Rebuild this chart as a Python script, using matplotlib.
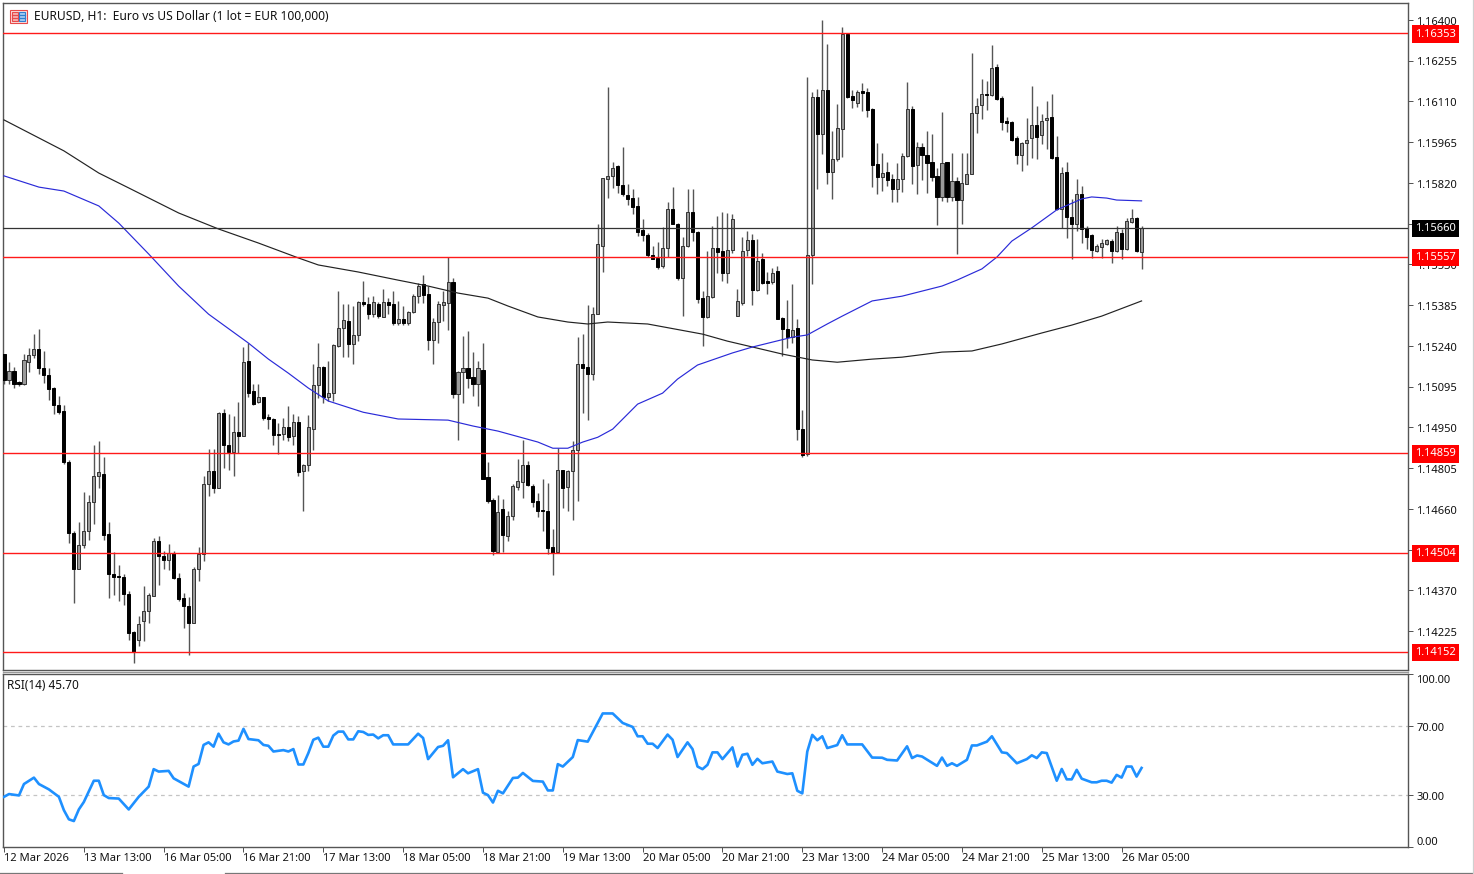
import numpy as np
import matplotlib
matplotlib.use("Agg")
import matplotlib.pyplot as plt
from matplotlib.lines import Line2D
from matplotlib.patches import Rectangle
from matplotlib.transforms import ScaledTranslation, blended_transform_factory

# Figure size
WIDTH = 1474
HEIGHT = 874

# Candles, in points (1 point = 0.00001)
opens = [
    115212, 115117, 115150, 115110, 115103, 115184, 115206, 115230, 115162, 115136,
    115089, 115029, 115008, 114826, 114575, 114447, 114532, 114581, 114683, 114777,
    114786, 114571, 114429, 114423, 114417, 114359, 114222, 114195, 114260, 114296,
    114352, 114545, 114494, 114478, 114504, 114415, 114343, 114314, 114254, 114448,
    114498, 114749, 114794, 114735, 115000, 114887, 114863, 114932, 114918, 115186,
    115079, 115041, 115058, 114987, 114981, 114928, 114927, 114950, 114918, 114968,
    114794, 114816, 114945, 115100, 115164, 115059, 115073, 115238, 115302, 115328,
    115248, 115280, 115396, 115390, 115352, 115390, 115344, 115396, 115388, 115321,
    115337, 115321, 115359, 115417, 115459, 115423, 115261, 115325, 115384, 115393,
    115467, 115069, 115147, 115163, 115129, 115105, 115156, 114773, 114693, 114506,
    114660, 114563, 114634, 114738, 114756, 114816, 114743, 114687, 114658, 114652,
    114524, 114507, 114798, 114737, 114794, 114868, 115174, 115164, 115140, 115352,
    115595, 115834, 115843, 115880, 115812, 115777, 115765, 115737, 115654, 115635,
    115563, 115553, 115523, 115587, 115728, 115674, 115482, 115595, 115715, 115646,
    115409, 115343, 115414, 115589, 115577, 115500, 115580, 115348, 115393, 115580,
    115616, 115438, 115548, 115470, 115467, 115506, 115340, 115301, 115271, 115302,
    114945, 114856, 115562, 116126, 115993, 116151, 115859, 115906, 116013, 116349,
    116129, 116106, 116147, 116145, 116082, 115886, 115842, 115859, 115833, 115797,
    115835, 115916, 116084, 115883, 115948, 115921, 115894, 115845, 115771, 115894,
    115771, 115827, 115758, 115817, 115853, 116067, 116096, 116138, 116132, 116233,
    116121, 116040, 116037, 115980, 115918, 115962, 115978, 116026, 115989, 116043,
    116055, 115912, 115728, 115859, 115700, 115673, 115782, 115661, 115633, 115578,
    115593, 115604, 115613, 115578, 115640, 115584, 115682, 115696, 115575,
]
highs = [
    115212, 115182, 115165, 115115, 115212, 115231, 115283, 115299, 115222, 115160,
    115093, 115061, 115029, 114834, 114580, 114613, 114721, 114708, 114886, 114901,
    114844, 114613, 114506, 114462, 114427, 114367, 114227, 114278, 114385, 114362,
    114557, 114563, 114512, 114536, 114512, 114432, 114361, 114346, 114453, 114524,
    114777, 114872, 114872, 115004, 115016, 114998, 114990, 115040, 115236, 115251,
    115103, 115103, 115060, 114996, 114984, 114966, 114984, 115026, 114996, 114990,
    114820, 114994, 115177, 115249, 115170, 115186, 115248, 115435, 115388, 115388,
    115382, 115399, 115471, 115414, 115417, 115396, 115441, 115411, 115435, 115399,
    115382, 115366, 115423, 115465, 115494, 115453, 115340, 115399, 115435, 115556,
    115480, 115150, 115275, 115293, 115218, 115186, 115249, 114827, 114699, 114711,
    114696, 114652, 114747, 114836, 114907, 114830, 114747, 114715, 114768, 114753,
    114590, 114877, 114800, 114800, 114901, 115271, 115281, 115387, 115378, 115674,
    115838, 116161, 115895, 115882, 115947, 115815, 115800, 115769, 115690, 115640,
    115595, 115609, 115663, 115753, 115805, 115678, 115627, 115800, 115797, 115649,
    115435, 115577, 115666, 115702, 115716, 115714, 115711, 115441, 115627, 115648,
    115639, 115619, 115571, 115502, 115518, 115524, 115342, 115402, 115462, 115337,
    115013, 116197, 116143, 116153, 116399, 116313, 116005, 116100, 116375, 116351,
    116151, 116150, 116174, 116156, 116085, 115961, 115925, 115894, 115851, 115890,
    115928, 116179, 116094, 115966, 115963, 116005, 115993, 115874, 116072, 115895,
    115925, 115842, 115925, 115925, 116281, 116123, 116189, 116183, 116310, 116242,
    116129, 116055, 116040, 115987, 115966, 116050, 116165, 116094, 116064, 116112,
    116135, 115987, 115877, 115894, 115764, 115835, 115809, 115665, 115637, 115601,
    115619, 115619, 115619, 115667, 115655, 115696, 115726, 115700, 115667,
]
lows = [
    115103, 115103, 115091, 115097, 115101, 115148, 115198, 115139, 115109, 115046,
    114998, 114998, 114820, 114539, 114326, 114447, 114521, 114548, 114605, 114735,
    114551, 114343, 114355, 114334, 114320, 114195, 114111, 114171, 114189, 114254,
    114350, 114391, 114448, 114444, 114409, 114332, 114237, 114142, 114254, 114405,
    114474, 114705, 114717, 114735, 114806, 114800, 114777, 114860, 114918, 115058,
    115029, 115038, 114975, 114943, 114889, 114856, 114907, 114901, 114889, 114777,
    114654, 114794, 114871, 115055, 115037, 115043, 115043, 115236, 115201, 115201,
    115177, 115259, 115382, 115334, 115342, 115340, 115342, 115352, 115316, 115316,
    115316, 115316, 115358, 115393, 115393, 115227, 115174, 115251, 115328, 115295,
    115055, 114905, 115037, 115091, 115061, 115026, 114765, 114681, 114495, 114503,
    114507, 114545, 114619, 114729, 114699, 114741, 114667, 114632, 114581, 114500,
    114426, 114505, 114664, 114652, 114619, 114690, 115002, 114978, 115117, 115352,
    115504, 115767, 115803, 115785, 115773, 115740, 115708, 115631, 115615, 115556,
    115548, 115515, 115518, 115556, 115672, 115473, 115348, 115591, 115613, 115393,
    115241, 115341, 115411, 115500, 115470, 115464, 115571, 115346, 115387, 115559,
    115384, 115435, 115459, 115425, 115459, 115334, 115203, 115233, 115251, 114907,
    114844, 114850, 115459, 115797, 115922, 115815, 115762, 115898, 115913, 116121,
    116085, 116090, 116076, 116055, 115805, 115779, 115791, 115809, 115753, 115753,
    115788, 115913, 115815, 115779, 115829, 115785, 115827, 115669, 115756, 115753,
    115756, 115566, 115673, 115815, 115851, 115999, 116046, 116080, 116129, 116115,
    116007, 116000, 115969, 115886, 115862, 115884, 115910, 115906, 115957, 115940,
    115906, 115724, 115661, 115623, 115548, 115649, 115607, 115584, 115554, 115575,
    115554, 115599, 115536, 115575, 115548, 115581, 115678, 115575, 115512,
]
closes = [
    115117, 115150, 115103, 115103, 115191, 115207, 115230, 115162, 115136, 115087,
    115029, 115006, 114826, 114575, 114447, 114532, 114581, 114683, 114777, 114790,
    114569, 114429, 114419, 114419, 114359, 114219, 114151, 114252, 114296, 114354,
    114545, 114492, 114478, 114504, 114415, 114341, 114313, 114254, 114448, 114498,
    114749, 114794, 114735, 115000, 114887, 114863, 114932, 114918, 115182, 115073,
    115035, 115057, 114982, 114981, 114923, 114923, 114950, 114917, 114968, 114792,
    114817, 114951, 115100, 115164, 115058, 115073, 115242, 115302, 115333, 115248,
    115280, 115396, 115390, 115354, 115396, 115346, 115396, 115385, 115320, 115337,
    115321, 115360, 115417, 115453, 115420, 115261, 115325, 115388, 115396, 115467,
    115069, 115147, 115163, 115126, 115105, 115161, 114768, 114687, 114509, 114648,
    114566, 114634, 114741, 114759, 114818, 114744, 114684, 114654, 114652, 114521,
    114503, 114800, 114735, 114794, 114871, 115176, 115162, 115140, 115355, 115601,
    115836, 115843, 115874, 115811, 115779, 115761, 115735, 115646, 115633, 115562,
    115551, 115521, 115589, 115728, 115674, 115480, 115595, 115715, 115644, 115407,
    115343, 115416, 115589, 115575, 115500, 115581, 115692, 115399, 115577, 115616,
    115438, 115542, 115464, 115464, 115500, 115336, 115301, 115271, 115297, 114945,
    114851, 115565, 116125, 115993, 116151, 115859, 115906, 116014, 116349, 116126,
    116114, 116145, 116141, 116078, 115883, 115842, 115856, 115829, 115797, 115835,
    115916, 116084, 115880, 115948, 115918, 115892, 115842, 115771, 115892, 115771,
    115827, 115758, 115821, 115853, 116068, 116094, 116138, 116132, 116230, 116118,
    116038, 116034, 115974, 115918, 115961, 115973, 116026, 115985, 116039, 116052,
    115910, 115726, 115856, 115700, 115673, 115782, 115657, 115627, 115581, 115595,
    115605, 115616, 115578, 115645, 115586, 115683, 115694, 115578, 115660,
]

# Moving averages, read at a subset of bars
black_ma_bars = [0, 12, 19, 25, 35, 43, 51, 59, 63, 71, 79, 85, 91, 97, 101, 107, 113, 117,
                 121, 129, 140, 145, 151, 156, 162, 167, 174, 180, 188, 194, 200, 208, 214, 220, 228]
black_ma = [116044, 115934, 115855, 115802, 115713, 115656, 115606, 115553, 115528, 115503,
            115474, 115453, 115428, 115410, 115382, 115343, 115325, 115318, 115325, 115318,
            115282, 115257, 115232, 115211, 115190, 115182, 115193, 115200, 115218, 115222,
            115247, 115286, 115314, 115346, 115400]
blue_ma_bars = [0, 7, 12, 19, 23, 29, 35, 41, 49, 53, 57, 61, 65, 72, 79, 89, 94, 99, 107, 110,
                113, 116, 119, 122, 127, 132, 135, 139, 146, 150, 158, 161, 165, 168, 174, 180,
                188, 191, 196, 199, 202, 206, 211, 216, 218, 221, 223, 228]
blue_ma = [115845, 115805, 115791, 115738, 115677, 115567, 115453, 115353, 115250, 115193,
           115143, 115090, 115044, 115004, 114980, 114976, 114955, 114937, 114898, 114876,
           114876, 114898, 114915, 114944, 115033, 115072, 115122, 115172, 115215, 115236,
           115271, 115279, 115318, 115346, 115400, 115417, 115453, 115474, 115514, 115556,
           115613, 115660, 115724, 115763, 115770, 115766, 115759, 115756]

# RSI panel, read at a subset of bars
rsi_bars = [0, 1, 3, 4, 6, 7, 9, 11, 12, 13, 14, 15, 16, 18, 19, 20, 21, 23, 25, 27, 29, 30, 31, 33,
            34, 37, 38, 39, 40, 41, 42, 43, 44, 45, 46, 47, 48, 49, 51, 52, 53, 54, 56, 57, 58, 59,
            60, 61, 62, 63, 64, 65, 66, 67, 68, 69, 70, 71, 72, 73, 74, 75, 76, 77, 78, 81, 83, 84,
            85, 87, 88, 89, 90, 92, 93, 95, 96, 97, 98, 99, 100, 102, 103, 104, 106, 108, 109, 110,
            111, 112, 114, 115, 117, 119, 120, 122, 124, 126, 127, 128, 129, 130, 131, 133, 134,
            135, 137, 138, 139, 140, 141, 142, 143, 144, 146, 147, 148, 149, 150, 151, 152, 154,
            155, 157, 158, 159, 160, 161, 162, 163, 164, 165, 167, 168, 169, 172, 174, 176, 177,
            179, 181, 182, 183, 184, 187, 188, 189, 190, 191, 193, 194, 195, 197, 198, 200, 201,
            203, 205, 206, 207, 208, 209, 211, 212, 213, 214, 215, 216, 218, 219, 220, 221, 222,
            223, 224, 225, 226, 227, 228]
rsi_values = [29, 30.6, 29.8, 36.4, 40.1, 36.4, 33.3, 29, 21.3, 16, 15, 21.7, 26, 38.3, 38.3, 30,
              28.3, 28, 21.7, 29, 34.9, 45, 43.6, 44, 39.7, 34.9, 46.5, 48, 59, 60.5, 58, 65.5,
              60.5, 59.3, 61, 61.5, 68.3, 62.4, 61.7, 59, 58.5, 55.2, 56, 55.2, 56.6, 47.7, 47.7,
              54.3, 62, 63.2, 58, 58, 64.4, 66.7, 66.7, 62.2, 62.2, 66.9, 66.5, 64.8, 65, 62.8,
              64.6, 64.6, 59.3, 59.3, 65.5, 63, 50.8, 57.8, 58.5, 61.7, 40.3, 45, 42.6, 45, 31.4,
              30, 25.7, 32.5, 31, 39.9, 40.1, 42.8, 38.2, 37.8, 32.7, 32.7, 47.9, 46.5, 52, 61.8,
              60.9, 71.7, 77.2, 77.2, 71.7, 69.4, 64, 64, 59.7, 59.7, 57.2, 65, 62, 52, 60.5, 56.6,
              46.5, 45, 47.5, 54.7, 54.7, 50.8, 57.6, 46.5, 53.3, 53.9, 47.5, 51, 48.4, 49.4, 43.6,
              42.2, 42.6, 32.5, 31, 55.2, 64.8, 61.7, 64, 57.2, 58.9, 64.6, 59.3, 59.3, 51.7, 51.6,
              50.4, 50, 58.2, 51.4, 52.9, 52.3, 46.9, 51.7, 46.9, 48.4, 46.9, 50.4, 58.7, 58.7,
              60.9, 64, 54.7, 54.3, 48.4, 50.8, 53, 51.4, 54.7, 54.3, 38.3, 45.1, 39.1, 39.1, 44.6,
              39.5, 37.4, 37.4, 38.3, 38.3, 37.2, 41.7, 40.1, 46.5, 46.5, 40.7, 45.7]

# Horizontal levels
red_levels = [116353, 115557, 114859, 114504, 114152]
current_price = 115660

# Axis labels
price_ticks = [116400, 116255, 116110, 115965, 115820, 115675, 115530, 115385, 115240,
               115095, 114950, 114805, 114660, 114515, 114370, 114225]
rsi_ticks = [100, 70, 30, 0]
time_labels = ["12 Mar 2026", "13 Mar 13:00", "16 Mar 05:00", "16 Mar 21:00", "17 Mar 13:00",
               "18 Mar 05:00", "18 Mar 21:00", "19 Mar 13:00", "20 Mar 05:00", "20 Mar 21:00",
               "23 Mar 13:00", "24 Mar 05:00", "24 Mar 21:00", "25 Mar 13:00", "26 Mar 05:00"]

FONT = "Noto Sans"
SPINE = "#555555"


def to_price(points):
    return np.array(points) * 1e-5


def fmt(points):
    return f"{points * 1e-5:.5f}"


def make_axes(fig, left, top, right, bottom):
    rect = [left / WIDTH, 1 - bottom / HEIGHT, (right - left) / WIDTH, (bottom - top) / HEIGHT]
    ax = fig.add_axes(rect)
    for spine in ax.spines.values():
        spine.set_color(SPINE)
        spine.set_linewidth(1.0)
    ax.yaxis.tick_right()
    ax.tick_params(axis="y", length=3.5, width=0.72, color=SPINE, pad=2.5, labelsize=8, labelcolor="#111111")
    ax.tick_params(axis="x", length=3.5, width=0.72, color=SPINE, pad=0.5)
    return ax


def shift_labels(fig, labels, points):
    # nudge tick labels down a little, the platform centres them lower than matplotlib
    offset = ScaledTranslation(0, -points / 72, fig.dpi_scale_trans)
    for label in labels:
        label.set_transform(label.get_transform() + offset)


def draw_candles(ax):
    bars = np.arange(len(opens))
    o, h, l, c = to_price(opens), to_price(highs), to_price(lows), to_price(closes)
    ax.vlines(bars, l, h, color="#555555", linewidth=1.0, zorder=2)
    bull = c >= o
    bottoms = np.minimum(o, c)
    heights = np.abs(c - o)
    ax.bar(bars[bull], heights[bull], width=0.62, bottom=bottoms[bull], color="#9a9a9a",
           edgecolor="#333333", linewidth=0.7, zorder=3)
    ax.bar(bars[~bull], heights[~bull], width=0.62, bottom=bottoms[~bull], color="#000000",
           edgecolor="#000000", linewidth=0.7, zorder=3)


def price_tag(ax, points, facecolor):
    trans = blended_transform_factory(ax.transAxes, ax.transData)
    ax.annotate(fmt(points), xy=(1.0, points * 1e-5), xycoords=trans, xytext=(5, -0.7),
                textcoords="offset points", va="center", ha="left", fontsize=8, family=FONT,
                color="white", zorder=6, annotation_clip=False,
                bbox=dict(boxstyle="square,pad=0.28", facecolor=facecolor, edgecolor="none"))


def draw_price_panel(fig):
    ax = make_axes(fig, 3, 3, 1408, 670)
    ax.set_xlim(-0.2, 281.4)
    ax.set_ylim(1.14087, 1.16460)

    draw_candles(ax)
    ax.plot(black_ma_bars, to_price(black_ma), color="#222222", linewidth=0.85, zorder=4)
    ax.plot(blue_ma_bars, to_price(blue_ma), color="#2a2ad8", linewidth=0.85, zorder=4)

    ax.axhline(current_price * 1e-5, color="#333333", linewidth=0.9, zorder=4)
    for level in red_levels:
        ax.axhline(level * 1e-5, color="#ff1a1a", linewidth=1.0, zorder=5)
        price_tag(ax, level, "#ff0000")
    price_tag(ax, current_price, "#000000")

    ax.set_xticks([])
    ax.set_yticks(to_price(price_ticks))
    labels = ax.set_yticklabels([fmt(p) for p in price_ticks], family=FONT)
    shift_labels(fig, labels, 0.5)

    ax.text(34 / WIDTH, 1 - 17 / HEIGHT, "EURUSD, H1:  Euro vs US Dollar (1 lot = EUR 100,000)",
            transform=fig.transFigure, va="center", ha="left", fontsize=8.65, family=FONT,
            color="#111111", zorder=7)
    return ax


def draw_rsi_panel(fig):
    ax = make_axes(fig, 3, 674, 1408, 847)
    ax.set_xlim(-0.2, 281.4)
    ax.set_ylim(0, 100)

    for level in [70, 30]:
        ax.axhline(level, color="#c4c4c4", linewidth=0.9, linestyle=(0, (3, 3)), zorder=1)
    ax.plot(rsi_bars, rsi_values, color="#1e90ff", linewidth=1.9, zorder=3)

    ax.text(7 / WIDTH, 1 - 685.5 / HEIGHT, "RSI(14) 45.70", transform=fig.transFigure, va="center",
            ha="left", fontsize=8.5, family=FONT, color="#111111")

    ax.set_yticks(rsi_ticks)
    labels = ax.set_yticklabels([f"{v:.2f}" for v in rsi_ticks], family=FONT)
    labels[0].set_verticalalignment("top")
    labels[-1].set_verticalalignment("bottom")
    shift_labels(fig, labels, 0.5)

    ax.set_xticks(np.arange(len(time_labels)) * 16)
    ax.set_xticklabels(time_labels, family=FONT, fontsize=8, color="#111111", ha="left")
    return ax


def draw_chrome(fig):
    def line(x0, y0, x1, y1, color):
        fig.add_artist(Line2D([x0 / WIDTH, x1 / WIDTH], [1 - y0 / HEIGHT, 1 - y1 / HEIGHT],
                              transform=fig.transFigure, color=color, linewidth=0.9))

    def box(x, y, w, h, face, edge):
        fig.add_artist(Rectangle((x / WIDTH, 1 - (y + h) / HEIGHT), w / WIDTH, h / HEIGHT,
                                 transform=fig.transFigure, facecolor=face, edgecolor=edge, linewidth=0.8))

    # window edges
    line(0, 873, 122, 873, "#777777")
    line(225, 873, WIDTH, 873, "#777777")
    line(1473, 0, 1473, 874, "#d0d0d0")
    line(3, 672, 1408, 672, "#999999")

    # chart type icon
    box(10, 10, 17, 13, "#fbe3e3", "#e84a4a")
    box(12, 12, 6, 9, "#f6b3b3", "#e84a4a")
    box(19, 12, 6, 9, "#a8cdf0", "#2f7fd0")
    for y in [15, 18]:
        line(12, y, 18, y, "#e84a4a")
        line(19, y, 25, y, "#2f7fd0")


def main():
    fig = plt.figure(figsize=(WIDTH / 100, HEIGHT / 100), dpi=100, facecolor="white")
    draw_price_panel(fig)
    draw_rsi_panel(fig)
    draw_chrome(fig)
    fig.savefig("out.png", dpi=100)
    plt.close(fig)


if __name__ == "__main__":
    main()
